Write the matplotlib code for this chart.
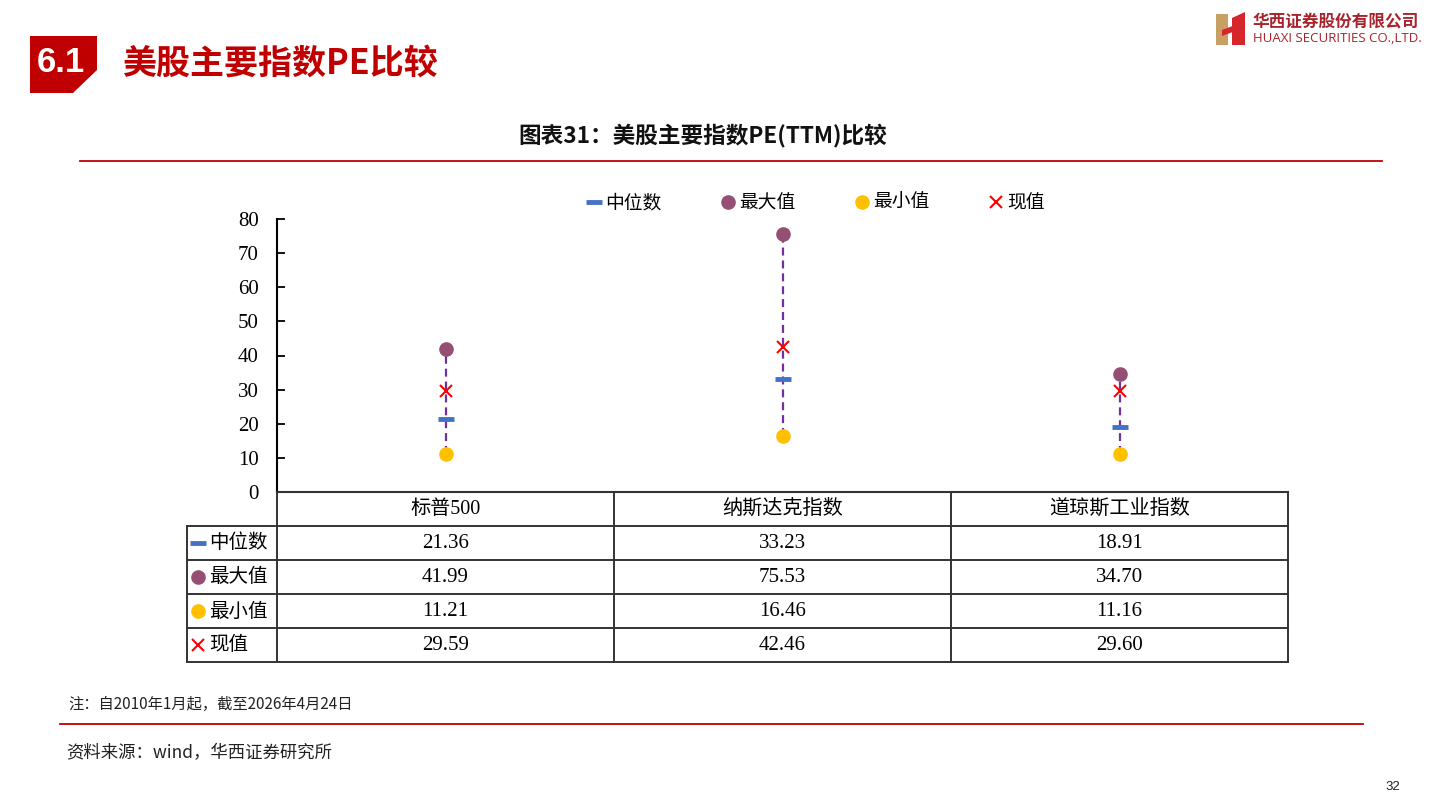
import matplotlib
matplotlib.use('Agg')
import matplotlib.pyplot as plt
from matplotlib.patches import Polygon
from matplotlib.lines import Line2D
import matplotlib.transforms as mtransforms

# ---------------- data ----------------
categories = ['标普500', '纳斯达克指数', '道琼斯工业指数']
median_vals = [21.36, 33.23, 18.91]
max_vals = [41.99, 75.53, 34.70]
min_vals = [11.21, 16.46, 11.16]
current_vals = [29.59, 42.46, 29.60]
series_names = ['中位数', '最大值', '最小值', '现值']
y_ticks = [0, 10, 20, 30, 40, 50, 60, 70, 80]

chart_title = '图表31：美股主要指数PE(TTM)比较'
section_no = '6.1'
section_title = '美股主要指数PE比较'
note_text = '注：自2010年1月起，截至2026年4月24日'
source_text = '资料来源：wind，华西证券研究所'
page_no = '32'

# ---------------- style ----------------
CJK = ['Noto Sans CJK SC', 'DejaVu Sans']
SERIF = ['Liberation Serif', 'Noto Sans CJK SC']
plt.rcParams['font.family'] = CJK

C_MED = '#4472C4'
C_MAX = '#954F72'
C_MIN = '#FFC000'
C_CUR = '#FF0000'
C_LINE = '#7030A0'
C_RED = '#C00000'
C_GRID = '#333333'

W, H = 1440, 810
fig = plt.figure(figsize=(14.4, 8.1), dpi=100)


def fx(px):
    return px / W


def fy(py):
    return 1 - py / H


# axes geometry (pixels)
AX_L, AX_R, AX_T, AX_B = 277, 1288, 219, 492
ax = fig.add_axes([fx(AX_L), fy(AX_B), fx(AX_R) - fx(AX_L), fy(AX_T) - fy(AX_B)])
ax.set_xlim(0, 3)
ax.set_ylim(0, 80)
ax.set_yticks(y_ticks)
ax.set_yticklabels([str(t) for t in y_ticks], fontfamily=SERIF, fontsize=15)
ax.tick_params(axis='y', direction='in', length=6, width=1.3, pad=13, colors='black')
ax.set_xticks([])
for s in ['top', 'right']:
    ax.spines[s].set_visible(False)
ax.spines['left'].set_linewidth(1.5)
ax.spines['bottom'].set_linewidth(1.5)
ax.spines['bottom'].set_color(C_GRID)

xs = [i + 0.5 for i in range(len(categories))]

for x, lo, hi in zip(xs, min_vals, max_vals):
    ax.plot([x, x], [lo, hi], color=C_LINE, lw=1.6, ls=(0, (3.6, 2.2)), zorder=2)

ax.plot(xs, median_vals, ls='none', marker='_', ms=11.5, mew=3.5, color=C_MED, zorder=4)
ax.plot(xs, max_vals, ls='none', marker='o', ms=9.5, color=C_MAX, zorder=4)
ax.plot(xs, min_vals, ls='none', marker='o', ms=9.5, color=C_MIN, zorder=4)
ax.plot(xs, current_vals, ls='none', marker='x', ms=8, mew=1.5, color=C_CUR, zorder=5)

# legend
handles = [
    Line2D([], [], ls='none', marker='_', ms=11, mew=3.5, color=C_MED),
    Line2D([], [], ls='none', marker='o', ms=9.5, color=C_MAX),
    Line2D([], [], ls='none', marker='o', ms=9.5, color=C_MIN),
    Line2D([], [], ls='none', marker='x', ms=8, mew=1.5, color=C_CUR),
]
ax.legend(handles, series_names, loc='center', bbox_to_anchor=(0.533, 1.060),
          ncol=4, frameon=False, fontsize=13.5, handlelength=0.8,
          handletextpad=0.2, columnspacing=3.15, borderaxespad=0)

# ---------------- table under the axis ----------------
tr = mtransforms.blended_transform_factory(ax.transData, ax.transAxes)
ax_h_px = AX_B - AX_T
row_h = 34 / ax_h_px
n_rows = len(series_names)
lab_w = 90 / ((AX_R - AX_L) / 3)   # label column width in data units
tbl_bottom = -row_h * (n_rows + 1)

lkw = dict(color=C_GRID, lw=1.4, transform=tr, clip_on=False, solid_capstyle='projecting')
# horizontal lines
for k in range(1, n_rows + 2):
    y = -row_h * k
    ax.plot([-lab_w, 3], [y, y], **lkw)
# vertical lines
ax.plot([-lab_w, -lab_w], [-row_h, tbl_bottom], **lkw)
ax.plot([0, 0], [0, tbl_bottom], **lkw)
for j in range(1, len(categories) + 1):
    ax.plot([j, j], [0, tbl_bottom], **lkw)

# header
for x, c in zip(xs, categories):
    ax.text(x, -row_h * 0.5, c, transform=tr, ha='center', va='center',
            fontsize=14.5, fontfamily=SERIF)

rows = [median_vals, max_vals, min_vals, current_vals]
row_markers = [
    dict(marker='_', ms=11, mew=3.5, color=C_MED),
    dict(marker='o', ms=9.5, color=C_MAX),
    dict(marker='o', ms=9.5, color=C_MIN),
    dict(marker='x', ms=8, mew=1.5, color=C_CUR),
]
for r, (name, vals, mk) in enumerate(zip(series_names, rows, row_markers)):
    yc = -row_h * (r + 1.5)
    ax.plot([-lab_w + 0.033], [yc], ls='none', transform=tr, clip_on=False, **mk)
    ax.text(-lab_w + 0.066, yc, name, transform=tr, ha='left', va='center',
            fontsize=14, fontfamily=CJK)
    for x, v in zip(xs, vals):
        ax.text(x, yc, f'{v:.2f}', transform=tr, ha='center', va='center',
                fontsize=15, fontfamily=SERIF)

# ---------------- page decorations ----------------
# section box
box = Polygon([(fx(30), fy(36)), (fx(97), fy(36)), (fx(97), fy(70)),
               (fx(73), fy(93)), (fx(30), fy(93))], closed=True,
              transform=fig.transFigure, facecolor=C_RED, edgecolor='none')
fig.add_artist(box)
fig.text(fx(61), fy(62), section_no, ha='center', va='center', color='white',
         fontsize=25, fontweight='bold', fontfamily=['Liberation Sans', 'DejaVu Sans'])
fig.text(fx(122), fy(63), section_title, ha='left', va='center', color=C_RED,
         fontsize=24.5, fontweight='bold', fontfamily=CJK)

# logo
logo_l = Polygon([(fx(1216), fy(14)), (fx(1228), fy(14)), (fx(1228), fy(45)),
                  (fx(1216), fy(45))], closed=True, transform=fig.transFigure,
                 facecolor='#C9A063', edgecolor='none')
logo_m = Polygon([(fx(1222), fy(30)), (fx(1238), fy(24)), (fx(1238), fy(30)),
                  (fx(1222), fy(36))], closed=True, transform=fig.transFigure,
                 facecolor='#D4262B', edgecolor='none')
logo_r = Polygon([(fx(1232), fy(18)), (fx(1245), fy(12)), (fx(1245), fy(45)),
                  (fx(1232), fy(45))], closed=True, transform=fig.transFigure,
                 facecolor='#D4262B', edgecolor='none')
for p in (logo_l, logo_m, logo_r):
    fig.add_artist(p)
fig.text(fx(1253), fy(22), '华西证券股份有限公司', ha='left', va='center',
         color='#A8232B', fontsize=12, fontweight='bold', fontfamily=CJK)
fig.text(fx(1253), fy(39), 'HUAXI SECURITIES CO.,LTD.', ha='left', va='center',
         color='#A8232B', fontsize=9.5, fontfamily=['Open Sans', 'DejaVu Sans'])

# chart title
fig.text(fx(703), fy(136), chart_title, ha='center', va='center',
         fontsize=16.3, fontweight='bold', color='#111111', fontfamily=CJK)
fig.add_artist(Line2D([fx(80), fx(1382)], [fy(161), fy(161)],
                      transform=fig.transFigure, color=C_RED, lw=1.3))

# footnotes
fig.text(fx(68), fy(704), note_text, ha='left', va='center', fontsize=11,
         color='#222222', fontfamily=CJK, fontstyle='italic')
fig.add_artist(Line2D([fx(60), fx(1363)], [fy(724), fy(724)],
                      transform=fig.transFigure, color=C_RED, lw=1.3))
fig.text(fx(66), fy(753), source_text, ha='left', va='center', fontsize=12.5,
         color='#222222', fontfamily=CJK, fontstyle='italic')
fig.text(fx(1393), fy(787), page_no, ha='center', va='center', fontsize=9.5,
         color='#222222', fontfamily=['Liberation Sans', 'DejaVu Sans'])

fig.savefig('out.png', dpi=100)
